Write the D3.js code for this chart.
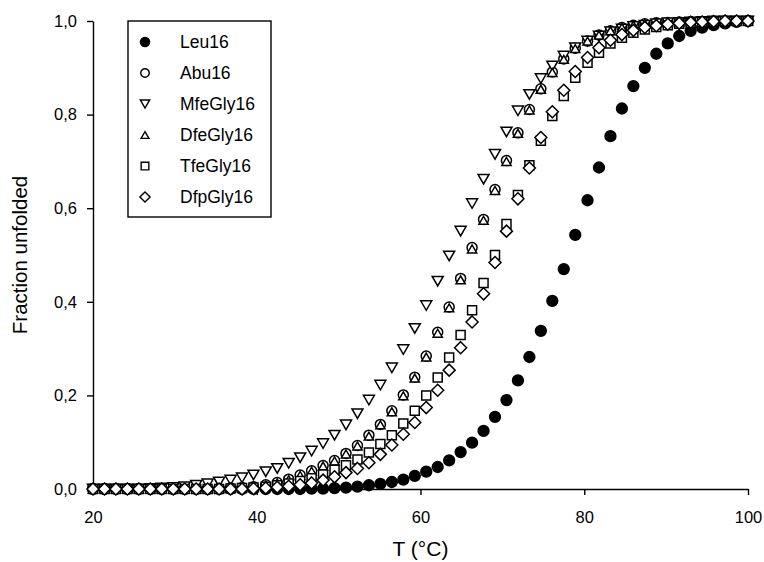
<!DOCTYPE html>
<html>
<head>
<meta charset="utf-8">
<script src="https://cdn.jsdelivr.net/npm/d3@7"></script>
<style>
  body { margin: 0; background: #fff; }
  text { font-family: "Liberation Sans", Arial, sans-serif; fill: #000; }
</style>
</head>
<body>
<div id="chart"></div>
<script>
// ---------- data ----------
const temps = [20.0, 21.4, 22.8, 24.2, 25.6, 27.0, 28.4, 29.8, 31.2, 32.6,
               34.0, 35.4, 36.8, 38.2, 39.6, 41.1, 42.5, 43.9, 45.3, 46.7,
               48.1, 49.5, 50.9, 52.3, 53.7, 55.1, 56.5, 57.9, 59.3, 60.7,
               62.1, 63.5, 64.9, 66.3, 67.7, 69.1, 70.5, 71.9, 73.3, 74.7,
               76.1, 77.5, 78.9, 80.4, 81.8, 83.2, 84.6, 86.0, 87.4, 88.8,
               90.2, 91.6, 93.0, 94.4, 95.8, 97.2, 98.6, 100.0];

const leu16 = [0, 0, 0, 0, 0, 0, 0, 0, 0, 0,
               0, 0, 0, 0, 0, 0, 0, 0, 0, 0.001,
               0.001, 0.002, 0.003, 0.005, 0.008, 0.011, 0.015, 0.020, 0.028, 0.037,
               0.047, 0.061, 0.079, 0.099, 0.124, 0.154, 0.190, 0.232, 0.282, 0.338,
               0.402, 0.470, 0.543, 0.617, 0.687, 0.754, 0.813, 0.861, 0.900, 0.930,
               0.952, 0.968, 0.979, 0.986, 0.991, 0.995, 0.998, 1.0];

const abu16 = [0, 0, 0, 0, 0, 0, 0, 0, 0, 0,
               0, 0.001, 0.002, 0.003, 0.005, 0.009, 0.014, 0.021, 0.030, 0.039,
               0.050, 0.061, 0.076, 0.093, 0.115, 0.138, 0.167, 0.201, 0.239, 0.284,
               0.335, 0.389, 0.450, 0.516, 0.576, 0.640, 0.702, 0.761, 0.811, 0.855,
               0.891, 0.919, 0.942, 0.957, 0.970, 0.979, 0.986, 0.991, 0.994, 0.996,
               0.997, 0.998, 0.999, 0.999, 1.0, 1.0, 1.0, 1.0];

const mfeGly16 = [0, 0, 0, 0, 0, 0.001, 0.002, 0.003, 0.005, 0.008,
                  0.011, 0.015, 0.019, 0.024, 0.030, 0.037, 0.044, 0.055, 0.067, 0.081,
                  0.097, 0.115, 0.137, 0.161, 0.190, 0.222, 0.259, 0.298, 0.343, 0.392,
                  0.444, 0.498, 0.551, 0.610, 0.662, 0.715, 0.763, 0.808, 0.843, 0.877,
                  0.904, 0.925, 0.943, 0.957, 0.968, 0.977, 0.983, 0.988, 0.991, 0.994,
                  0.996, 0.997, 0.998, 0.999, 1.0, 1.0, 1.0, 1.0];

const dfeGly16 = [0, 0, 0, 0, 0, 0, 0, 0, 0, 0,
                  0, 0.001, 0.002, 0.003, 0.005, 0.008, 0.013, 0.020, 0.029, 0.038,
                  0.049, 0.060, 0.075, 0.092, 0.113, 0.137, 0.165, 0.199, 0.237, 0.282,
                  0.333, 0.387, 0.447, 0.513, 0.574, 0.638, 0.700, 0.760, 0.810, 0.854,
                  0.890, 0.918, 0.941, 0.957, 0.970, 0.979, 0.986, 0.991, 0.994, 0.996,
                  0.997, 0.998, 0.999, 0.999, 1.0, 1.0, 1.0, 1.0];

const tfeGly16 = [0, 0, 0, 0, 0, 0, 0, 0, 0, 0,
                  0, 0, 0.001, 0.002, 0.003, 0.005, 0.008, 0.012, 0.017, 0.023,
                  0.031, 0.041, 0.051, 0.063, 0.078, 0.096, 0.115, 0.140, 0.167, 0.200,
                  0.238, 0.281, 0.329, 0.382, 0.440, 0.500, 0.566, 0.628, 0.692, 0.744,
                  0.797, 0.840, 0.879, 0.911, 0.932, 0.952, 0.964, 0.975, 0.982, 0.987,
                  0.991, 0.994, 0.996, 0.998, 0.999, 1.0, 1.0, 1.0];

const dfpGly16 = [0, 0, 0, 0, 0, 0, 0, 0, 0, 0,
                  0, 0, 0, 0, 0.001, 0.002, 0.004, 0.006, 0.009, 0.013,
                  0.019, 0.026, 0.035, 0.044, 0.056, 0.074, 0.094, 0.117, 0.142, 0.174,
                  0.211, 0.254, 0.302, 0.357, 0.417, 0.484, 0.551, 0.620, 0.686, 0.751,
                  0.806, 0.852, 0.892, 0.922, 0.943, 0.959, 0.971, 0.980, 0.986, 0.990,
                  0.993, 0.995, 0.997, 0.998, 0.999, 1.0, 1.0, 1.0];

const seriesNames = ['Leu16', 'Abu16', 'MfeGly16', 'DfeGly16', 'TfeGly16', 'DfpGly16'];
const seriesValues = [leu16, abu16, mfeGly16, dfeGly16, tfeGly16, dfpGly16];
const xTicks = [20, 40, 60, 80, 100];
const yTicks = [0, 0.2, 0.4, 0.6, 0.8, 1.0];

// ---------- marker shapes ----------
// custom symbol types, size = half width in px
const circleType = { draw(ctx, r) { ctx.moveTo(r, 0); ctx.arc(0, 0, r, 0, 2 * Math.PI); } };
const triDownType = { draw(ctx, r) {
  const h = r * Math.sqrt(3);
  ctx.moveTo(-r, -h / 2); ctx.lineTo(r, -h / 2); ctx.lineTo(0, h / 2); ctx.closePath(); } };
const triUpType = { draw(ctx, r) {
  const h = r * Math.sqrt(3);
  ctx.moveTo(-r, h / 2); ctx.lineTo(r, h / 2); ctx.lineTo(0, -h / 2); ctx.closePath(); } };
const squareType = { draw(ctx, r) { ctx.rect(-r, -r, 2 * r, 2 * r); } };
const diamondType = { draw(ctx, r) {
  ctx.moveTo(0, -r); ctx.lineTo(r, 0); ctx.lineTo(0, r); ctx.lineTo(-r, 0); ctx.closePath(); } };

const markers = [
  { type: circleType,  size: 5.4, fill: '#000' },
  { type: circleType,  size: 5.0, fill: '#fff' },
  { type: triDownType, size: 5.5, fill: '#fff' },
  { type: triUpType,   size: 4.6, fill: '#fff' },
  { type: squareType,  size: 4.5, fill: '#fff' },
  { type: diamondType, size: 6.0, fill: '#fff' }
];

// ---------- chart ----------
const svgWidth = 764;
const svgHeight = 562;

const svg = d3.select('#chart')
  .append('svg')
  .attr('width', svgWidth)
  .attr('height', svgHeight);

const xScale = d3.scaleLinear().domain([20, 100]).range([93, 748]);
const yScale = d3.scaleLinear().domain([0, 1]).range([489, 21]);

const commaFmt = d3.formatLocale({ decimal: ',', thousands: '.', grouping: [3], currency: ['', ''] }).format('.1f');

// x axis
const xAxis = svg.append('g')
  .attr('transform', `translate(0, ${yScale(0)})`)
  .call(d3.axisBottom(xScale).tickValues(xTicks).tickSize(6).tickSizeOuter(0).tickPadding(16));

// y axis
const yAxis = svg.append('g')
  .attr('transform', `translate(${xScale(20)}, 0)`)
  .call(d3.axisLeft(yScale).tickValues(yTicks).tickFormat(commaFmt).tickSize(6).tickSizeOuter(0).tickPadding(10));

[xAxis, yAxis].forEach(ax => {
  ax.select('.domain').attr('stroke', '#000').attr('stroke-width', 1.4);
  ax.selectAll('.tick line').attr('stroke', '#000').attr('stroke-width', 1.4);
  ax.selectAll('.tick text')
    .style('font-family', '"Liberation Sans", Arial, sans-serif')
    .style('font-size', '16.5px')
    .attr('fill', '#000');
});

// axis titles
svg.append('text')
  .attr('x', (xScale(20) + xScale(100)) / 2)
  .attr('y', 556)
  .attr('text-anchor', 'middle')
  .style('font-size', '21px')
  .text('T (°C)');

svg.append('text')
  .attr('transform', `translate(27, ${(yScale(0) + yScale(1)) / 2}) rotate(-90)`)
  .attr('text-anchor', 'middle')
  .style('font-size', '20.5px')
  .text('Fraction unfolded');

// points
const symbolGen = d3.symbol();
seriesValues.forEach((vals, i) => {
  const m = markers[i];
  svg.append('g')
    .attr('class', 'series-' + seriesNames[i])
    .selectAll('path')
    .data(vals.map((v, j) => ({ t: temps[j], f: v })))
    .join('path')
    .attr('d', symbolGen.type(m.type).size(m.size)())
    .attr('transform', d => `translate(${xScale(d.t)}, ${yScale(d.f)})`)
    .attr('fill', m.fill)
    .attr('stroke', '#000')
    .attr('stroke-width', 1.5);
});

// legend
const legend = svg.append('g').attr('transform', 'translate(128, 21)');
legend.append('rect')
  .attr('x', 0).attr('y', 0)
  .attr('width', 143).attr('height', 196)
  .attr('fill', '#fff')
  .attr('stroke', '#000')
  .attr('stroke-width', 1.4);

seriesNames.forEach((name, i) => {
  const m = markers[i];
  const row = legend.append('g').attr('transform', `translate(0, ${21 + i * 31})`);
  row.append('path')
    .attr('d', d3.symbol().type(m.type).size(m.size * 0.85)())
    .attr('transform', 'translate(17, 0)')
    .attr('fill', m.fill)
    .attr('stroke', '#000')
    .attr('stroke-width', 1.4);
  row.append('text')
    .attr('x', 52)
    .attr('y', 6)
    .style('font-size', '17.5px')
    .text(name);
});
</script>
</body>
</html>
